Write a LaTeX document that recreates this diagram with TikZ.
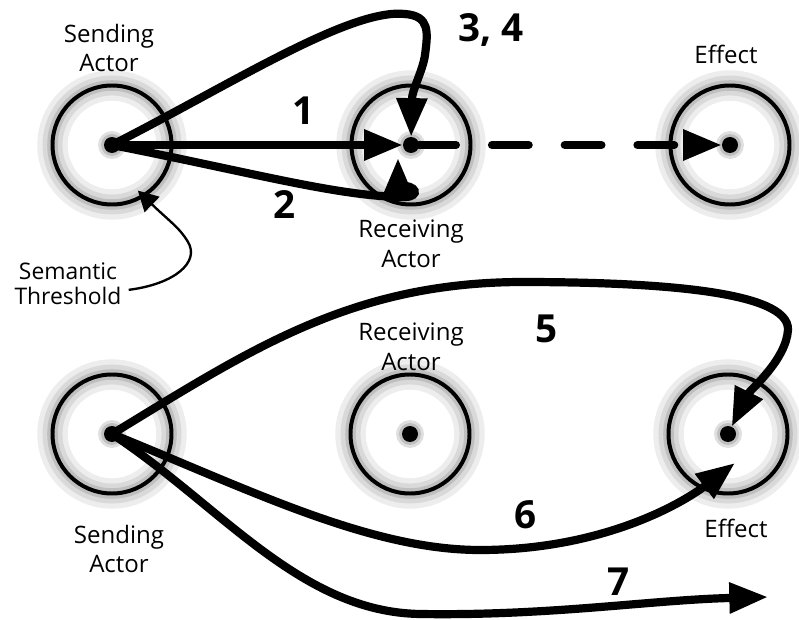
\documentclass[tikz,border=0pt]{standalone}
\usepackage{fontspec}
\setmainfont{Open Sans}
\usetikzlibrary{arrows.meta}
\tikzset{
    actor-circle/.style = {circle, draw, line width=3.4pt, minimum size=3.57cm, inner sep=0pt,
        preaction={draw=gray!14, line width=26pt}, preaction={draw=gray!30, line width=17pt},
        preaction={draw=gray!50, line width=9pt}},
    actor-dot/.style = {circle, fill=black, minimum size=0.48cm, inner sep=0pt,
        preaction={draw=gray!25, line width=10pt}, preaction={draw=gray!50, line width=5pt}},
    actor-label/.style = {align=center, inner sep=0pt, font=\fontsize{20.5}{25.5}\selectfont},
    flow-number/.style = {inner sep=0pt, font=\fontsize{33}{38}\selectfont\bfseries},
    flow-arrow/.style = {line width=7pt, -{Triangle[length=33pt, width=25pt]}},
    signal-dash/.style = {flow-arrow, line cap=round, dash pattern=on 31.3pt off 30.8pt},
    threshold-arrow/.style = {line width=2pt, -{Triangle[length=17pt, width=18pt]}},
}
\begin{document}
\begin{tikzpicture}[x=0.03cm, y=-0.03cm]
\useasboundingbox (0,0) rectangle (799,620);
% upper row
\node[actor-circle] (sendA) at (112,145) {};
\node[actor-circle] (recvA) at (411,145) {};
\node[actor-circle] (effA) at (730,145) {};
\node[actor-dot] (sendA-dot) at (sendA.center) {};
\node[actor-dot] (recvA-dot) at (recvA.center) {};
\node[actor-dot] (effA-dot) at (effA.center) {};
% lower row
\node[actor-circle] (sendB) at (112,434) {};
\node[actor-circle] (recvB) at (410,434) {};
\node[actor-circle] (effB) at (728,434) {};
\node[actor-dot] (sendB-dot) at (sendB.center) {};
\node[actor-dot] (recvB-dot) at (recvB.center) {};
\node[actor-dot] (effB-dot) at (effB.center) {};
% labels
\node[actor-label] (sendA-text) at (109,48) {Sending\\Actor};
\node[actor-label] (recvA-text) at (411,244) {Receiving\\Actor};
\node[actor-label] (effA-text) at (726,54) {Effect};
\node[actor-label, font=\fontsize{19.5}{21.5}\selectfont] (thresh) at (68,284) {Semantic\\Threshold};
\node[actor-label] (recvB-text) at (411,347) {Receiving\\Actor};
\node[actor-label] (sendB-text) at (119,549) {Sending\\Actor};
\node[actor-label] (effB-text) at (736,528) {Effect};
% numbers
\node[flow-number] (n1) at (304,111) {1};
\node[flow-number] (n2) at (285,205) {2};
\node[flow-number] (n34) at (491,30) {3, 4};
\node[flow-number] (n5) at (547,329) {5};
\node[flow-number] (n6) at (526,515) {6};
\node[flow-number] (n7) at (619,582) {7};
% free ends
\coordinate (tip2) at (398,158);
\coordinate (tip6) at (735,463);
\coordinate (tip7) at (768,597);
% upper arrows
\draw[flow-arrow] (sendA-dot.center) -- (recvA-dot);
\draw[flow-arrow] (sendA-dot.center) .. controls (250,172) and (340,197) .. (405,197) .. controls (420,197) and (418,184) .. (398,186) -- (tip2);
\draw[flow-arrow] (sendA-dot.center) .. controls (230,85) and (350,8) .. (405,14) .. controls (430,16) and (428,32) .. (425,55) .. controls (423,70) and (412,90) .. (recvA-dot);
\draw[signal-dash] (recvA-dot) -- (effA-dot);
\draw[threshold-arrow, shorten >=-8pt] ([xshift=6pt,yshift=-5pt]thresh.east) .. controls (175,284) and (200,262) .. (188,242) .. controls (180,228) and (168,220) .. (sendA.-58);
% lower arrows
\draw[flow-arrow] (sendB-dot.center) .. controls (250,350) and (350,283) .. (520,282) .. controls (650,282) and (790,290) .. (788,330) .. controls (786,360) and (750,390) .. (effB-dot);
\draw[flow-arrow] (sendB-dot.center) .. controls (250,490) and (370,550) .. (480,550) .. controls (600,550) and (680,505) .. (tip6);
\draw[flow-arrow] (sendB-dot.center) .. controls (220,505) and (300,612) .. (420,614) .. controls (550,616) and (650,600) .. (tip7);
\end{tikzpicture}
\end{document}
